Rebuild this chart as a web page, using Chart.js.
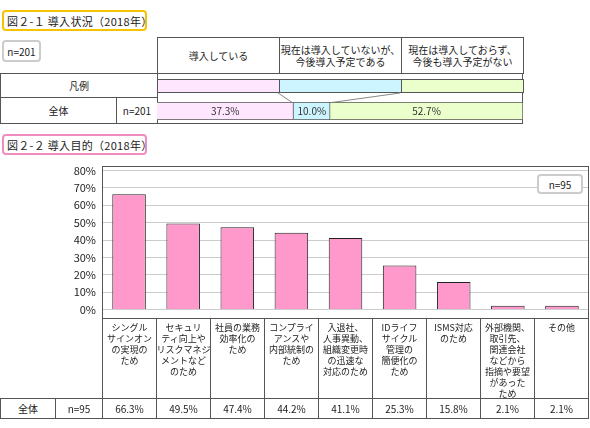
<!DOCTYPE html>
<html lang="ja">
<head>
<meta charset="UTF-8">
<script src="https://cdn.jsdelivr.net/npm/chart.js"></script>
<style>
  body { margin:0; width:590px; height:428px; background:#fff; font-family:"Noto Sans CJK JP",sans-serif; font-size:10px; color:#222; position:relative; overflow:hidden; }
  .abs { position:absolute; box-sizing:border-box; }
  .cell { position:absolute; box-sizing:border-box; border:1px solid #555; display:flex; align-items:center; justify-content:center; text-align:center; line-height:12px; background:#fff; white-space:nowrap; }
  .title { border:2px solid; border-radius:4px; padding:0 3px; font-size:11px; display:flex; align-items:center; white-space:nowrap; letter-spacing:0.3px; }
  .lab { align-items:flex-start; padding-top:3px; font-size:9px; line-height:11px; letter-spacing:0; }
</style>
</head>
<body>
<div class="abs title" style="left:2px;top:10px;width:145px;height:21px;border-color:#f5c400">図２-１ 導入状況（2018年）</div>
<div class="abs" style="left:2px;top:40px;width:39px;height:22px;border:2px solid #ccc;border-radius:4px;display:flex;align-items:center;justify-content:center">n=201</div>
<div id="head"></div>
<div class="cell" style="left:0;top:73px;width:158px;height:25px">凡例</div>
<div class="cell" style="left:0;top:97px;width:117px;height:27px">全体</div>
<div class="cell" style="left:116px;top:97px;width:42px;height:27px">n=201</div>
<div class="abs" style="left:157px;top:73px;width:366px;height:51px;border:1px solid #555;border-left:none"></div>
<div id="legendBars"></div>
<svg class="abs" style="left:0;top:0" width="590" height="130"><line x1="278" y1="93" x2="293" y2="103" stroke="#888"/><line x1="400" y1="93" x2="328" y2="103" stroke="#888"/></svg>
<div class="abs" style="left:157px;top:99px;width:366px;height:24px"><canvas id="top"></canvas></div>

<div class="abs title" style="left:2px;top:134px;width:145px;height:21px;border-color:#f08cc0">図２-２ 導入目的（2018年）</div>
<div class="abs" style="left:0;top:158px;width:590px;height:164px"><canvas id="bars"></canvas></div>
<div class="abs" style="left:102px;top:166px;width:487px;height:153px;border:1px solid #555;pointer-events:none"></div>
<div class="abs" style="left:537px;top:174px;width:46px;height:20px;border:2px solid #ccc;border-radius:4px;background:#fff;display:flex;align-items:center;justify-content:center">n=95</div>
<div id="table"></div>

<script>
const statusLabels = ['導入している', '現在は導入していないが、<br>今後導入予定である', '現在は導入しておらず、<br>今後も導入予定がない'];
const statusValues = [37.3, 10.0, 52.7];
const statusColors = ['#ffe6ff', '#ccf5ff', '#ebffcc'];

const purposeLabels = ['シングル<br>サインオン<br>の実現の<br>ため', 'セキュリ<br>ティ向上や<br>リスクマネジ<br>メントなど<br>のため', '社員の業務<br>効率化の<br>ため', 'コンプライ<br>アンスや<br>内部統制の<br>ため', '入退社、<br>人事異動、<br>組織変更時<br>の迅速な<br>対応のため', 'IDライフ<br>サイクル<br>管理の<br>簡便化の<br>ため', 'ISMS対応<br>のため', '外部機関、<br>取引先、<br>関連会社<br>などから<br>指摘や要望<br>があった<br>ため', 'その他'];
const purposeValues = [66.3, 49.5, 47.4, 44.2, 41.1, 25.3, 15.8, 2.1, 2.1];
const yTicks = [0, 10, 20, 30, 40, 50, 60, 70, 80];

// header and legend of figure 2-1
let h = '', lg = '';
const colX = [157, 279, 401, 523];
statusLabels.forEach((t, i) => {
  h += `<div class="cell" style="left:${colX[i]}px;top:37px;width:${colX[i+1]-colX[i]+1}px;height:37px">${t}</div>`;
  lg += `<div class="abs" style="left:${colX[i]}px;top:79px;width:${colX[i+1]-colX[i]+1}px;height:14px;border:1px solid #555;background:${statusColors[i]}"></div>`;
});
document.getElementById('head').innerHTML = h;
document.getElementById('legendBars').innerHTML = lg;

new Chart(document.getElementById('top'), {
  type: 'bar',
  data: {
    labels: ['全体'],
    datasets: statusValues.map((v, i) => ({ data: [v], backgroundColor: statusColors[i], borderColor: '#555', borderWidth: 1, barPercentage: 1, categoryPercentage: 1 }))
  },
  options: {
    indexAxis: 'y', responsive: true, maintainAspectRatio: false, animation: false,
    layout: { padding: { top: 3, bottom: 3 } },
    plugins: { legend: { display: false }, tooltip: { enabled: false } },
    scales: { x: { stacked: true, min: 0, max: 100, display: false }, y: { stacked: true, display: false } }
  },
  plugins: [{
    id: 'inlabels',
    afterDatasetsDraw(c) {
      const ctx = c.ctx;
      ctx.font = '10px "Noto Sans CJK JP"'; ctx.fillStyle = '#333'; ctx.textAlign = 'center'; ctx.textBaseline = 'middle';
      c.data.datasets.forEach((d, i) => {
        const b = c.getDatasetMeta(i).data[0];
        ctx.fillText(d.data[0].toFixed(1) + '%', (b.x + b.base) / 2, b.y);
      });
    }
  }]
});

new Chart(document.getElementById('bars'), {
  type: 'bar',
  data: {
    labels: purposeLabels,
    datasets: [{ data: purposeValues, backgroundColor: '#ff99cc', borderColor: '#222', borderWidth: 1, barPercentage: 0.62, categoryPercentage: 1 }]
  },
  options: {
    responsive: true, maintainAspectRatio: false, animation: false,
    layout: { padding: { top: 8, bottom: 4, right: 1 } },
    plugins: { legend: { display: false }, tooltip: { enabled: false } },
    scales: {
      x: { display: false },
      y: {
        min: 0, max: 80,
        afterFit(a) { a.width = 102; },
        afterBuildTicks(a) { a.ticks = yTicks.map(v => ({ value: v })); },
        ticks: { callback: v => v + '%', color: '#222', font: { size: 11, family: 'Noto Sans CJK JP' }, padding: 6 },
        grid: { color: '#ccc', drawTicks: false },
        border: { color: '#555' }
      }
    }
  }
});

// category / value table
let t = '';
t += `<div class="cell" style="left:0;top:398px;width:56px;height:21px">全体</div>`;
t += `<div class="cell" style="left:55px;top:398px;width:48px;height:21px">n=95</div>`;
const w = 486 / purposeLabels.length;
purposeLabels.forEach((l, i) => {
  const x = Math.round(102 + i * w), x2 = Math.round(102 + (i + 1) * w);
  t += `<div class="cell lab" style="left:${x}px;top:318px;width:${x2-x+1}px;height:81px">${l}</div>`;
  t += `<div class="cell" style="left:${x}px;top:398px;width:${x2-x+1}px;height:21px">${purposeValues[i].toFixed(1)}%</div>`;
});
document.getElementById('table').innerHTML = t;
</script>
</body>
</html>
